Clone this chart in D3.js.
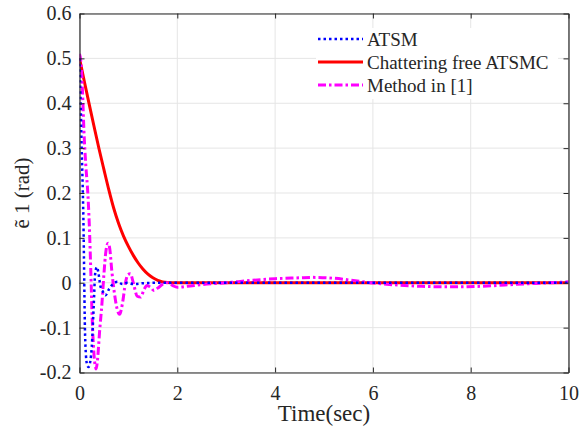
<!DOCTYPE html>
<html>
<head>
<meta charset="utf-8">
<script src="https://cdn.jsdelivr.net/npm/d3@7"></script>
<style>
  body { margin: 0; background: #fff; }
  text { font-family: "Liberation Serif", "Times New Roman", serif; fill: #262626; }
</style>
</head>
<body>
<svg width="579" height="434"></svg>
<script>
// time (sec) and error values
const atsmT = [0, 0.02, 0.04, 0.08, 0.115, 0.15, 0.185, 0.2, 0.25, 0.29, 0.32, 0.356, 0.39, 0.425, 0.48, 0.53, 0.6, 0.68, 0.78, 0.88, 0.98, 1.1, 1.3, 1.6, 2, 3, 4, 5, 6, 7, 8, 9, 10];
const atsmV = [0.5, 0.42, 0.32, 0.14, -0.12, -0.18, -0.188, -0.185, -0.144, -0.054, 0.02, 0.035, 0.02, -0.006, -0.02, -0.028, -0.015, -0.003, 0.002, -0.003, 0, -0.003, -0.001, 0, 0, 0, 0, 0, 0, 0, 0, 0, 0];

const cfT = [0, 0.1, 0.2, 0.3, 0.4, 0.5, 0.6, 0.7, 0.8, 0.9, 1.0, 1.1, 1.2, 1.3, 1.4, 1.5, 1.6, 1.7, 1.8, 1.9, 3, 5, 7, 10];
const cfV = [0.5, 0.448, 0.397, 0.347, 0.298, 0.252, 0.207, 0.166, 0.132, 0.104, 0.081, 0.061, 0.044, 0.03, 0.019, 0.011, 0.0055, 0.002, 0.0005, 0, 0, 0, 0, 0];

const m1T = [0, 0.03, 0.06, 0.09, 0.13, 0.17, 0.2, 0.23, 0.26, 0.29, 0.32, 0.34, 0.37, 0.41, 0.46, 0.5, 0.54, 0.585, 0.62, 0.66, 0.71, 0.76, 0.82, 0.88, 0.94, 0.99, 1.04, 1.1, 1.18, 1.25, 1.32, 1.38, 1.45, 1.52, 1.6, 1.7, 1.8, 1.9, 2.0, 2.2, 2.5, 3.0, 3.5, 4.0, 4.5, 4.75, 5.2, 5.6, 5.95, 6.5, 7.0, 7.5, 7.75, 8.2, 8.7, 9.2, 9.6, 10];
const m1V = [0.51, 0.49, 0.43, 0.34, 0.26, 0.2, 0.13, 0.03, -0.08, -0.15, -0.185, -0.192, -0.17, -0.11, -0.045, 0.02, 0.07, 0.088, 0.075, 0.027, -0.02, -0.054, -0.07, -0.045, 0, 0.018, 0.02, 0, -0.03, -0.032, -0.015, -0.006, -0.01, -0.017, -0.012, -0.003, 0, -0.006, -0.01, -0.008, -0.004, 0, 0.005, 0.009, 0.011, 0.012, 0.01, 0.005, 0, -0.005, -0.008, -0.009, -0.009, -0.008, -0.005, -0.002, 0, 0.002];

const xTicks = [0, 2, 4, 6, 8, 10];
const yTicks = [-0.2, -0.1, 0, 0.1, 0.2, 0.3, 0.4, 0.5, 0.6];

const series = [
  { name: "ATSM", t: atsmT, v: atsmV, color: "#0000ff", width: 2.5, dash: "2.5,3" },
  { name: "Chattering free ATSMC", t: cfT, v: cfV, color: "#ff0000", width: 3, dash: null },
  { name: "Method in [1]", t: m1T, v: m1V, color: "#ff00ff", width: 3, dash: "8,3,2.5,3" }
];

const serif = "Liberation Serif, Times New Roman, serif";
const svg = d3.select("svg");
const margin = { top: 13.5, right: 10.5, bottom: 61.5, left: 79.5 };
const width = +svg.attr("width") - margin.left - margin.right;
const height = +svg.attr("height") - margin.top - margin.bottom;

const g = svg.append("g").attr("transform", `translate(${margin.left},${margin.top})`);

const xScale = d3.scaleLinear().domain([0, 10]).range([0, width]);
const yScale = d3.scaleLinear().domain([-0.2, 0.6]).range([height, 0]);

// grid
g.append("g").selectAll("line").data(xTicks).enter().append("line")
  .attr("x1", d => xScale(d)).attr("x2", d => xScale(d))
  .attr("y1", 0).attr("y2", height)
  .attr("stroke", "#e5e5e5").attr("stroke-width", 1);
g.append("g").selectAll("line").data(yTicks).enter().append("line")
  .attr("x1", 0).attr("x2", width)
  .attr("y1", d => yScale(d)).attr("y2", d => yScale(d))
  .attr("stroke", "#e5e5e5").attr("stroke-width", 1);

// curves
const line = d3.line()
  .x(d => xScale(d[0]))
  .y(d => yScale(d[1]))
  .curve(d3.curveMonotoneX);

g.append("defs").append("clipPath").attr("id", "clip")
  .append("rect").attr("x", 0).attr("y", -2).attr("width", width).attr("height", height + 2);

const order = [1, 2, 0];
order.forEach(i => {
  const s = series[i];
  g.append("path")
    .datum(s.t.map((t, j) => [t, s.v[j]]))
    .attr("d", line)
    .attr("fill", "none")
    .attr("stroke", s.color)
    .attr("stroke-width", s.width)
    .attr("stroke-dasharray", s.dash)
    .attr("clip-path", "url(#clip)");
});

// axes (ticks inside, box)
const axisColor = "#262626";
const xAxis = g.append("g").attr("transform", `translate(0,${height})`)
  .call(d3.axisBottom(xScale).tickValues(xTicks).tickSizeInner(-5).tickSizeOuter(0).tickPadding(13).tickFormat(d3.format("d")));
const yAxis = g.append("g")
  .call(d3.axisLeft(yScale).tickValues(yTicks).tickSizeInner(-5).tickSizeOuter(0).tickPadding(8).tickFormat(d => d === 0 ? "0" : d3.format(".1f")(d).replace("\u2212", "-")));
const xTop = g.append("g")
  .call(d3.axisTop(xScale).tickValues(xTicks).tickSizeInner(-5).tickSizeOuter(0).tickFormat(""));
const yRight = g.append("g").attr("transform", `translate(${width},0)`)
  .call(d3.axisRight(yScale).tickValues(yTicks).tickSizeInner(-5).tickSizeOuter(0).tickFormat(""));

[xAxis, yAxis, xTop, yRight].forEach(a => {
  a.attr("font-family", serif).attr("font-size", 20);
  a.select(".domain").attr("stroke", axisColor).attr("stroke-width", 1.2);
  a.selectAll(".tick line").attr("stroke", axisColor);
  a.selectAll(".tick text").attr("fill", axisColor);
});

// axis labels
svg.append("text")
  .attr("x", margin.left + width / 2)
  .attr("y", 421)
  .attr("text-anchor", "middle")
  .attr("font-family", serif)
  .attr("font-size", 23)
  .text("Time(sec)");

svg.append("text")
  .attr("transform", `translate(29,${margin.top + height / 2}) rotate(-90)`)
  .attr("text-anchor", "middle")
  .attr("font-family", serif)
  .attr("font-size", 21)
  .text("ẽ 1 (rad)");

// legend
const lg = svg.append("g");
lg.append("rect").attr("x", 316).attr("y", 28).attr("width", 242).attr("height", 71).attr("fill", "#fff");
series.forEach((s, i) => {
  const y = 39 + i * 23;
  lg.append("line")
    .attr("x1", 318).attr("x2", 363).attr("y1", y).attr("y2", y)
    .attr("stroke", s.color).attr("stroke-width", s.width)
    .attr("stroke-dasharray", s.dash);
  lg.append("text")
    .attr("x", 367).attr("y", y).attr("dy", "0.35em")
    .attr("font-family", serif)
    .attr("font-size", 19)
    .text(s.name);
});
</script>
</body>
</html>
